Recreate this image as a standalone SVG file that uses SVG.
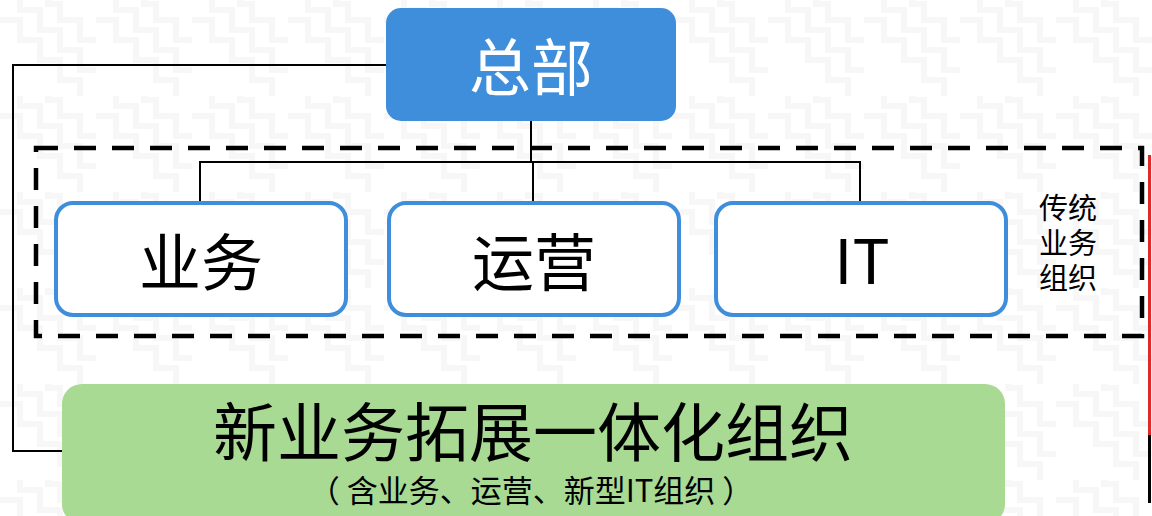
<svg xmlns="http://www.w3.org/2000/svg" width="1152" height="516" viewBox="0 0 1152 516">
<defs>
<style>
.cjk{font-family:"Noto Sans CJK SC","Noto Sans CJK JP",sans-serif;}
.sub{fill:#fff;stroke:#3f8edc;stroke-width:4;}
.lbl{font-size:62px;fill:#000;text-anchor:middle;}
.conn{fill:none;stroke:#000;stroke-width:2;}
</style>
<pattern id="bg" width="96" height="96" patternUnits="userSpaceOnUse">
<path d="M0 20 H20 V40 H40 V60 H60 V80 H80 V96 M20 0 V10 H40 V30 H60 V50 H80 V70 H96 M48 0 V4 H60 V20 H80 V40 H96" fill="none" stroke="#f7f7f7" stroke-width="6"/>
</pattern>
</defs>
<rect width="1152" height="516" fill="#fff"/>
<rect width="1152" height="516" fill="url(#bg)"/>
<line x1="1149.5" y1="155" x2="1149.5" y2="435" stroke="#e02a2a" stroke-width="3"/>
<line x1="1149.5" y1="435" x2="1149.5" y2="503" stroke="#000" stroke-width="3"/>
<g id="connectors">
<polyline class="conn" points="386,65 13,65 13,451 62,451"/>
<line class="conn" x1="531" y1="120" x2="531" y2="162"/>
<polyline class="conn" points="200,205 200,162 860,162 860,205"/>
<line class="conn" x1="533" y1="162" x2="533" y2="205"/>
</g>
<g id="traditional-group">
<rect x="36" y="148" width="1106" height="188" fill="none" stroke="#000" stroke-width="4.5" stroke-dasharray="22 16"/>
<text class="cjk" x="1039" y="219" font-size="29">传统</text>
<text class="cjk" x="1039" y="254" font-size="29">业务</text>
<text class="cjk" x="1039" y="289" font-size="29">组织</text>
</g>
<g id="hq">
<rect x="386" y="8" width="290" height="113" rx="15" fill="#3f8edc"/>
<text class="cjk" x="531" y="91" font-size="62" fill="#fff" text-anchor="middle">总部</text>
</g>
<g id="business">
<rect class="sub" x="56" y="203" width="290" height="112" rx="17"/>
<text class="cjk lbl" x="201" y="286">业务</text>
</g>
<g id="operations">
<rect class="sub" x="389" y="203" width="290" height="112" rx="17"/>
<text class="cjk lbl" x="534" y="286">运营</text>
</g>
<g id="it">
<rect class="sub" x="716" y="203" width="290" height="112" rx="17"/>
<text class="cjk lbl" x="862" y="284" font-size="66">IT</text>
</g>
<g id="new-business">
<rect x="62" y="384" width="943" height="140" rx="20" fill="#a8da94"/>
<text class="cjk" x="533" y="456" font-size="64" text-anchor="middle">新业务拓展一体化组织</text>
<text class="cjk" x="531" y="502" font-size="31" text-anchor="middle" xml:space="preserve">（ 含业务、运营、新型IT组织 ）</text>
</g>
</svg>
